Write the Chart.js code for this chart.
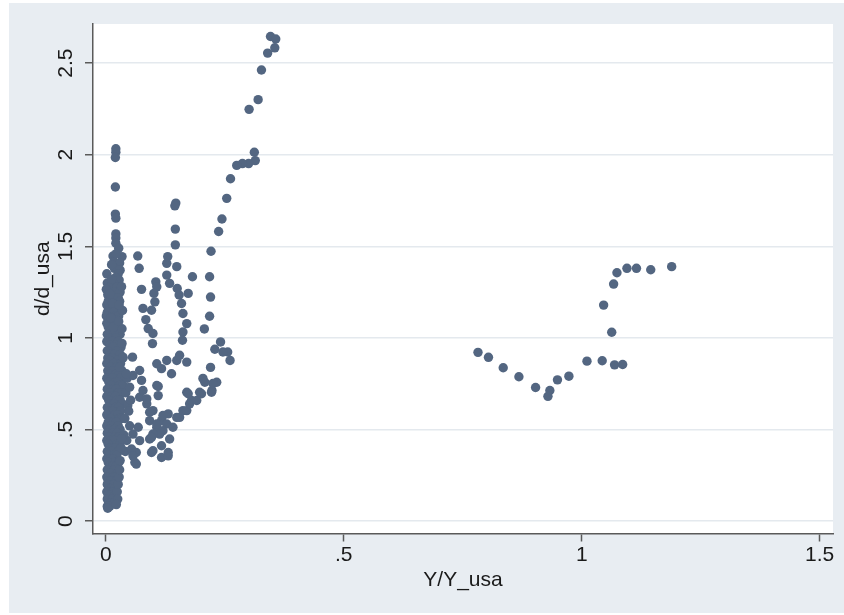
<!DOCTYPE html>
<html><head><meta charset="utf-8">
<script src="https://cdn.jsdelivr.net/npm/chart.js@4.4.0/dist/chart.umd.min.js"></script>
<style>html,body{margin:0;padding:0;background:#fff;}#wrap{width:844px;height:615px;}</style>
</head><body><div id="wrap"><canvas id="c" width="844" height="615"></canvas></div>
<script>
const xTickValues=[0,0.5,1,1.5];
const xTickLabels=["0",".5","1","1.5"];
const yTickValues=[0,0.5,1,1.5,2,2.5];
const yTickLabels=["0",".5","1","1.5","2","2.5"];
const xTitle="Y/Y_usa";
const yTitle="d/d_usa";

const upperColumn=[[0.021,2.033],[0.021,2.014],[0.020,1.985],[0.020,1.824],[0.020,1.676],[0.021,1.654],[0.021,1.568],[0.021,1.545],[0.021,1.517],[0.027,1.490],[0.015,1.447],[0.034,1.444],[0.024,1.407],[0.017,1.416],[0.029,1.409],[0.022,1.46],[0.018,1.38],[0.030,1.37],[0.012,1.40],[0.026,1.35]];

const denseColumn=[[0.002,1.35],[0.021,1.33],[0.028,1.316],[0.003,1.30],[0.016,1.30],[0.010,1.28],[0.024,1.28],[0.001,1.265],[0.018,1.25],[0.030,1.25],[0.004,1.235],[0.012,1.22],[0.026,1.22],[0.005,1.20],[0.029,1.20],[0.002,1.18],[0.020,1.18],[0.008,1.16],[0.024,1.16],[0.003,1.14],[0.016,1.14],[0.001,1.12],[0.019,1.12],[0.027,1.12],[0.006,1.10],[0.022,1.10],[0.002,1.08],[0.013,1.08],[0.005,1.06],[0.024,1.06],[0.010,1.04],[0.022,1.04],[0.003,1.02],[0.017,1.02],[0.030,1.02],[0.007,1.00],[0.021,1.00],[0.002,0.98],[0.014,0.98],[0.026,0.98],[0.009,0.96],[0.020,0.96],[0.015,0.95],[0.032,0.95],[0.003,0.93],[0.024,0.93],[0.008,0.91],[0.018,0.91],[0.030,0.91],[0.004,0.89],[0.013,0.89],[0.036,0.89],[0.008,0.877],[0.025,0.877],[0.002,0.86],[0.017,0.86],[0.031,0.86],[0.010,0.84],[0.023,0.84],[0.029,0.84],[0.004,0.82],[0.015,0.82],[0.034,0.82],[0.008,0.80],[0.021,0.80],[0.028,0.80],[0.002,0.78],[0.013,0.78],[0.031,0.78],[0.006,0.76],[0.019,0.76],[0.025,0.76],[0.011,0.74],[0.028,0.74],[0.036,0.74],[0.003,0.72],[0.016,0.72],[0.022,0.72],[0.008,0.70],[0.026,0.70],[0.033,0.70],[0.002,0.68],[0.013,0.68],[0.020,0.68],[0.006,0.66],[0.024,0.66],[0.030,0.66],[0.010,0.64],[0.017,0.64],[0.035,0.64],[0.003,0.62],[0.021,0.62],[0.027,0.62],[0.007,0.60],[0.014,0.60],[0.031,0.60],[0.002,0.58],[0.019,0.58],[0.025,0.58],[0.010,0.56],[0.028,0.56],[0.034,0.56],[0.005,0.54],[0.016,0.54],[0.022,0.54],[0.002,0.52],[0.012,0.52],[0.026,0.52],[0.008,0.50],[0.019,0.50],[0.030,0.50],[0.003,0.48],[0.014,0.48],[0.024,0.48],[0.007,0.46],[0.020,0.46],[0.028,0.46],[0.002,0.44],[0.011,0.44],[0.017,0.44],[0.005,0.42],[0.023,0.42],[0.029,0.42],[0.009,0.40],[0.015,0.40],[0.020,0.40],[0.003,0.38],[0.012,0.38],[0.026,0.38],[0.006,0.36],[0.018,0.36],[0.023,0.36],[0.002,0.34],[0.010,0.34],[0.015,0.34],[0.005,0.32],[0.020,0.32],[0.027,0.32],[0.008,0.30],[0.014,0.30],[0.022,0.30],[0.003,0.28],[0.018,0.28],[0.006,0.26],[0.011,0.26],[0.024,0.26],[0.002,0.24],[0.015,0.24],[0.020,0.24],[0.005,0.22],[0.010,0.22],[0.022,0.22],[0.003,0.20],[0.017,0.20],[0.007,0.18],[0.012,0.18],[0.020,0.18],[0.002,0.16],[0.015,0.16],[0.005,0.14],[0.010,0.14],[0.019,0.14],[0.003,0.12],[0.014,0.12],[0.006,0.10],[0.011,0.10],[0.018,0.10],[0.003,0.08],[0.008,0.08],[0.004,0.07],
[0.042,0.70],[0.046,0.63],[0.040,0.56],[0.050,0.52],[0.044,0.44],[0.048,0.60],[0.038,0.47],[0.052,0.66],[0.041,0.38],[0.045,0.78],
[0.024,0.16],[0.025,0.12],[0.022,0.09],[0.026,0.20],[0.028,0.24],[0.029,0.28],[0.030,0.33],[0.032,0.40],[0.033,0.45],[0.034,1.05],[0.035,1.15],[0.033,1.28],[0.034,0.97],[0.012,1.32],[0.009,1.24],[0.014,1.19],[0.011,1.11],[0.016,1.06],[0.027,1.09],[0.028,1.18]];

const lowArcs=[[0.071,0.676],[0.086,0.640],[0.099,0.603],[0.092,0.548],[0.107,0.512],[0.117,0.548],[0.131,0.585],[0.120,0.576],[0.128,0.530],[0.107,0.530],[0.120,0.493],[0.113,0.475],[0.099,0.475],[0.092,0.448],[0.096,0.457],[0.134,0.448],[0.117,0.411],[0.099,0.384],[0.096,0.374],[0.117,0.347],[0.131,0.356],[0.131,0.374],[0.064,0.374],[0.061,0.320],[0.064,0.311],[0.071,0.439],[0.057,0.475],[0.054,0.393],[0.057,0.356],[0.068,0.512],[0.092,0.594],[0.086,0.667],[0.110,0.685],[0.107,0.740],[0.141,0.512],[0.149,0.566],[0.155,0.566],[0.162,0.603],[0.170,0.603],[0.176,0.640],[0.180,0.658],[0.191,0.658],[0.170,0.703],[0.173,0.695],[0.197,0.703],[0.201,0.695],[0.222,0.703],[0.208,0.758],[0.233,0.758],[0.223,0.713],[0.225,0.751],[0.204,0.779],[0.220,0.839],[0.110,0.735],[0.078,0.713],[0.050,0.731],[0.075,0.768],[0.071,0.822],[0.057,0.795],[0.043,0.804],[0.029,0.840],[0.036,0.895],[0.056,0.895],[0.107,0.859],[0.117,0.832],[0.128,0.877],[0.138,0.804],[0.149,0.877],[0.155,0.905],[0.170,0.868],[0.261,0.877],[0.256,0.923],[0.246,0.923],[0.229,0.938],[0.241,0.978]];

const midArcs=[[0.070,1.380],[0.067,1.447],[0.128,1.407],[0.149,1.389],[0.130,1.444],[0.146,1.508],[0.146,1.594],[0.147,1.736],[0.145,1.721],[0.075,1.265],[0.105,1.306],[0.107,1.279],[0.101,1.243],[0.103,1.197],[0.078,1.161],[0.096,1.151],[0.128,1.343],[0.134,1.298],[0.150,1.270],[0.154,1.234],[0.173,1.243],[0.182,1.334],[0.159,1.188],[0.162,1.133],[0.170,1.078],[0.162,1.032],[0.161,0.987],[0.084,1.100],[0.089,1.051],[0.099,1.024],[0.098,0.969]];

const risingArc=[[0.346,2.646],[0.357,2.632],[0.355,2.584],[0.340,2.555],[0.327,2.463],[0.320,2.301],[0.301,2.248],[0.312,2.014],[0.314,1.968],[0.300,1.952],[0.287,1.952],[0.275,1.942],[0.262,1.869],[0.254,1.762],[0.244,1.649],[0.237,1.581],[0.221,1.473],[0.218,1.334],[0.220,1.223],[0.218,1.118],[0.207,1.049]];

const richGroup=[[0.782,0.921],[0.804,0.894],[0.835,0.837],[0.868,0.788],[0.903,0.729],[0.933,0.713],[0.929,0.681],[0.949,0.771],[0.973,0.791],[1.011,0.873],[1.043,0.875],[1.069,0.853],[1.086,0.855],[1.063,1.031],[1.046,1.179],[1.067,1.294],[1.074,1.356],[1.095,1.380],[1.115,1.380],[1.145,1.372],[1.189,1.389]];

const allPoints=[].concat(upperColumn,denseColumn,lowArcs,midArcs,risingArc,richGroup).map(p=>({x:p[0],y:p[1]}));

const FONT={family:"'Liberation Sans', Arial, sans-serif",size:21};
const TEXT='#1a1a1a';
const AXIS='#5a5a5a';

const bgPlugin={id:'bg',beforeDraw(chart){const ctx=chart.ctx,a=chart.chartArea;ctx.save();ctx.fillStyle='#ffffff';ctx.fillRect(0,0,844,615);ctx.fillStyle='#e8edf2';ctx.fillRect(9,3,835,610);ctx.fillStyle='#ffffff';ctx.fillRect(a.left,a.top,a.right-a.left,a.bottom-a.top);ctx.restore();}};

new Chart(document.getElementById('c'),{
  type:'scatter',
  data:{datasets:[{data:allPoints,backgroundColor:'#536681',borderWidth:0,pointRadius:4.7,pointHoverRadius:4.7}]},
  options:{
    responsive:false,animation:false,events:[],
    layout:{padding:{left:0,right:11,top:24,bottom:0}},
    plugins:{legend:{display:false},tooltip:{enabled:false}},
    scales:{
      x:{type:'linear',min:-0.027,max:1.528,
        afterBuildTicks:s=>{s.ticks=xTickValues.map(v=>({value:v}));},
        afterFit:s=>{s.height=81.5;},
        ticks:{callback:v=>xTickLabels[xTickValues.indexOf(v)],font:FONT,color:TEXT,padding:1,minRotation:0,maxRotation:0,autoSkip:false},
        grid:{drawOnChartArea:false,drawTicks:true,tickLength:8,tickColor:AXIS,tickWidth:1.5},
        border:{display:true,color:AXIS,width:1.5},
        title:{display:true,text:xTitle,font:FONT,color:TEXT,padding:{top:0,bottom:22}}},
      y:{type:'linear',min:-0.068,max:2.714,
        afterBuildTicks:s=>{s.ticks=yTickValues.map(v=>({value:v}));},
        afterFit:s=>{s.width=93;},
        ticks:{callback:v=>yTickLabels[yTickValues.indexOf(v)],font:FONT,color:TEXT,padding:4,minRotation:90,maxRotation:90,crossAlign:'center',autoSkip:false},
        grid:{color:'#e4e9ee',lineWidth:1.5,drawTicks:true,tickLength:8,tickColor:AXIS,tickWidth:1.5},
        border:{display:true,color:AXIS,width:1.5},
        title:{display:true,text:yTitle,font:FONT,color:TEXT,padding:{top:31,bottom:0}}}
    }
  },
  plugins:[bgPlugin]
});
</script></body></html>
